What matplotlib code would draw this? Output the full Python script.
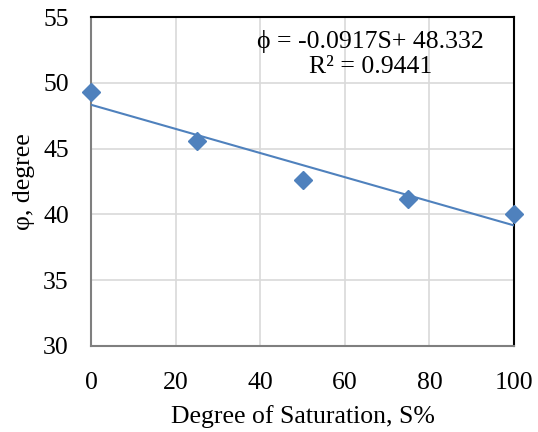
import numpy as np
import matplotlib.pyplot as plt

# Degree of saturation vs friction angle
saturation = [0, 25, 50, 75, 100]
phi = [49.3, 45.6, 42.6, 41.2, 40.0]

slope = -0.0917
intercept = 48.332

plt.rcParams['font.family'] = ['Liberation Serif', 'DejaVu Serif']

fig = plt.figure(figsize=(5.38, 4.32), dpi=100)
ax = fig.add_axes([91/538, 1 - 346/432, (514-91)/538, (346-17)/432])

blue = '#4F81BD'
x_fit = np.array([0, 100])
ax.plot(x_fit, slope*x_fit + intercept, color=blue, lw=1.5, zorder=3)
ax.plot(saturation, phi, ls='none', marker='D', ms=9.5, color=blue, zorder=4, clip_on=False)

ax.set_xlim(0, 100)
ax.set_ylim(30, 55)
ax.set_xticks(np.arange(0, 101, 20))
ax.set_yticks(np.arange(30, 56, 5))
ax.grid(True, color='#D9D9D9', lw=1.2)
ax.set_axisbelow(True)
ax.tick_params(length=0, labelsize=18.5)
ax.tick_params(axis='x', pad=19)
ax.tick_params(axis='y', pad=16)
for s in ax.spines.values():
    s.set_color('black')
    s.set_linewidth(1.5)
ax.spines['left'].set_color('#7F7F7F')
ax.spines['bottom'].set_color('#7F7F7F')

ax.set_xlabel('Degree of Saturation, S%', fontsize=18.5, labelpad=8)
ax.set_ylabel('\u03c6, degree', fontsize=18.5, labelpad=6)

ax.text(0.66, 0.888, '\u03d5 = -0.0917S+ 48.332\nR\u00b2 = 0.9441', transform=ax.transAxes,
        ha='center', va='center', fontsize=18.5, linespacing=1.15)

fig.savefig('out.png', dpi=100)
